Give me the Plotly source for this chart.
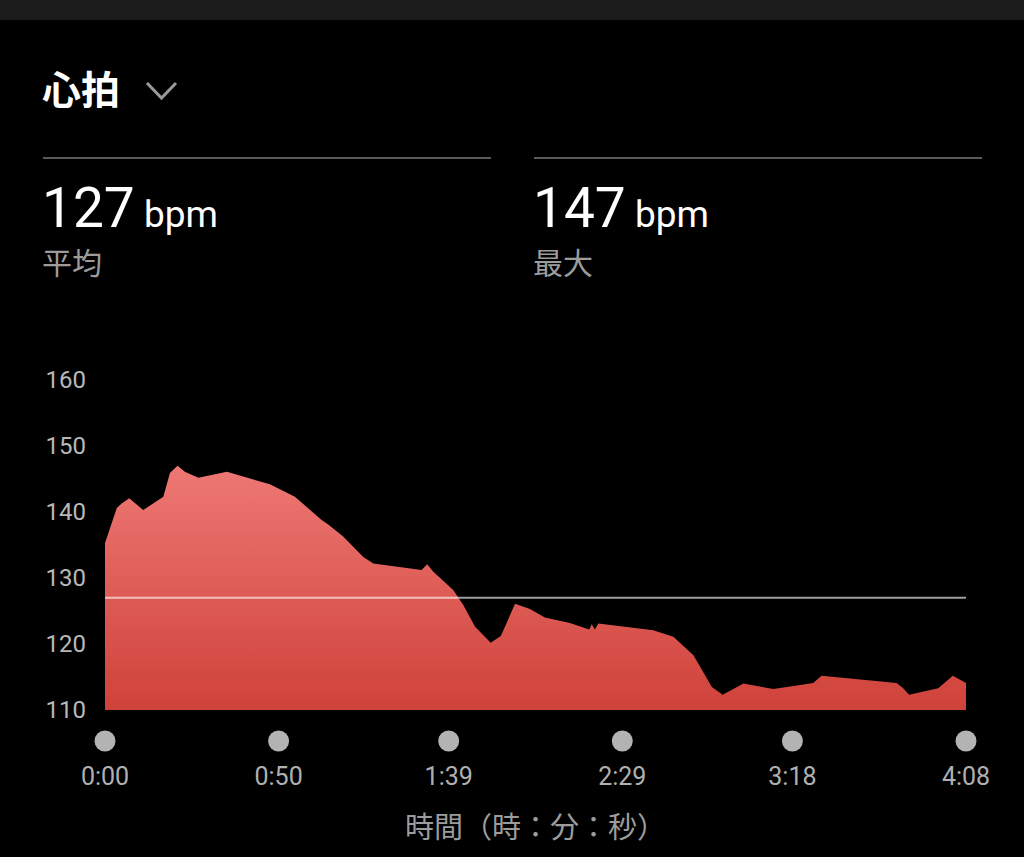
import plotly.graph_objects as go

# Heart-rate samples: elapsed seconds and bpm
seconds = [0, 3.4, 4.8, 7.0, 11.0, 16.8, 18.7, 20.9, 23.0, 26.9, 35.1, 47.5, 54.7,
           62.4, 64.3, 68.6, 74.4, 77.3, 91.2, 92.8, 94.5, 100.3, 103.2, 106.6,
           111.1, 114.0, 115.2, 118.1, 122.4, 126.7, 133.9, 139.5, 140.2, 141.1,
           142.1, 157.9, 163.7, 169.5, 174.8, 177.9, 183.9, 192.5, 204.0, 206.4,
           228.0, 229.9, 231.6, 240.0, 244.2, 248]
bpm = [135.3, 140.6, 141.3, 142.1, 140.3, 142.3, 145.9, 147.0, 146.1, 145.2, 146.1,
       144.2, 142.3, 138.8, 138.1, 136.3, 133.2, 132.2, 131.2, 132.1, 131.0, 128.2,
       125.9, 122.6, 120.2, 121.2, 122.6, 126.1, 125.3, 124.0, 123.2, 122.2, 123.0,
       122.2, 123.1, 122.1, 121.1, 118.3, 113.5, 112.3, 114.0, 113.2, 114.1, 115.2,
       114.1, 113.3, 112.3, 113.3, 115.2, 114.1]

avg_bpm = 127
max_bpm = 147

tick_seconds = [0, 50, 99, 149, 198, 248]
tick_labels = ["0:00", "0:50", "1:39", "2:29", "3:18", "4:08"]
y_ticks = [110, 120, 130, 140, 150, 160]

W, H = 1024, 857
L, R, T, B = 105, 58, 380, 97
plot_w, plot_h = W - L - R, H - T - B
chart_bottom = 710          # pixel row of the 110 bpm baseline
dot_row = 741               # pixel row of the tick dots
split = (H - B - chart_bottom) / plot_h


def px(x):
    return (x - L) / plot_w


def py(y):
    return (H - B - y) / plot_h


CJK = "Noto Sans CJK JP"
NUM = "Roboto"

fig = go.Figure()

fig.add_trace(go.Scatter(
    x=seconds, y=bpm, mode="lines", line=dict(width=0, color="#e05a52"),
    fill="tozeroy",
    fillgradient=dict(type="vertical", start=110, stop=147,
                      colorscale=[[0, "#cf423a"], [1, "#ee7874"]]),
    hoverinfo="skip", showlegend=False,
))

# dot markers under each time tick, on a thin strip below the chart
fig.add_trace(go.Scatter(
    x=tick_seconds, y=[(H - B - dot_row) / (H - B - chart_bottom)] * len(tick_seconds),
    mode="markers", marker=dict(size=21, color="#b3b3b3"),
    xaxis="x2", yaxis="y2", cliponaxis=False,
    hoverinfo="skip", showlegend=False,
))

# average line
fig.add_shape(type="line", xref="x", yref="y", x0=0, x1=248, y0=avg_bpm, y1=avg_bpm,
              line=dict(color="rgba(255,255,255,0.62)", width=2), layer="above")

# top status strip
fig.add_shape(type="rect", xref="paper", yref="paper", x0=px(0), x1=px(W),
              y0=py(20), y1=py(0), fillcolor="#1b1b1b", line=dict(width=0))

# divider lines above the summary values
for x0, x1 in [(43, 491), (534, 982)]:
    fig.add_shape(type="line", xref="paper", yref="paper", x0=px(x0), x1=px(x1),
                  y0=py(158), y1=py(158), line=dict(color="#5a5a5a", width=2))

# dropdown chevron next to the title
fig.add_shape(type="path", xref="paper", yref="paper",
              path=f"M {px(147)},{py(83)} L {px(161.5)},{py(98)} L {px(176)},{py(83)}",
              line=dict(color="#9a9a9a", width=3))

ann = []
ann.append(dict(text="<b>心拍</b>", x=px(40), y=py(87), xanchor="left", yanchor="middle",
                font=dict(family=CJK, size=39, color="#ffffff")))
for x0, val, label in [(40, avg_bpm, "平均"), (531, max_bpm, "最大")]:
    ann.append(dict(text=f"{val}<span style='font-size:37px'> bpm</span>",
                    x=px(x0), y=py(242), xanchor="left", yanchor="bottom",
                    font=dict(family=NUM, size=55, color="#ffffff")))
    ann.append(dict(text=label, x=px(x0), y=py(261), xanchor="left", yanchor="middle",
                    font=dict(family=CJK, size=30, color="#9c9c9c")))
for a in ann:
    a.update(xref="paper", yref="paper", showarrow=False)
    fig.add_annotation(**a)

fig.update_layout(
    width=W, height=H, margin=dict(l=L, r=R, t=T, b=B, pad=0),
    paper_bgcolor="#000000", plot_bgcolor="#000000",
    xaxis=dict(range=[0, 248], tickvals=tick_seconds, ticktext=tick_labels,
               anchor="y", showgrid=False, zeroline=False, showline=False, ticks="",
               ticklabelstandoff=49,
               tickfont=dict(family=NUM, size=25, color="#b0b0b0"),
               title=dict(text="時間（時：分：秒）", standoff=27,
                          font=dict(family=CJK, size=29, color="#9c9c9c"))),
    yaxis=dict(range=[110, 160], domain=[split, 1], tickvals=y_ticks,
               showgrid=False, zeroline=False, showline=False, ticks="",
               ticklabelstandoff=18,
               tickfont=dict(family=NUM, size=24, color="#b8b8b8")),
    xaxis2=dict(matches="x", anchor="y2", visible=False),
    yaxis2=dict(range=[0, 1], domain=[0, split], visible=False),
)

fig.write_html("out.html")
